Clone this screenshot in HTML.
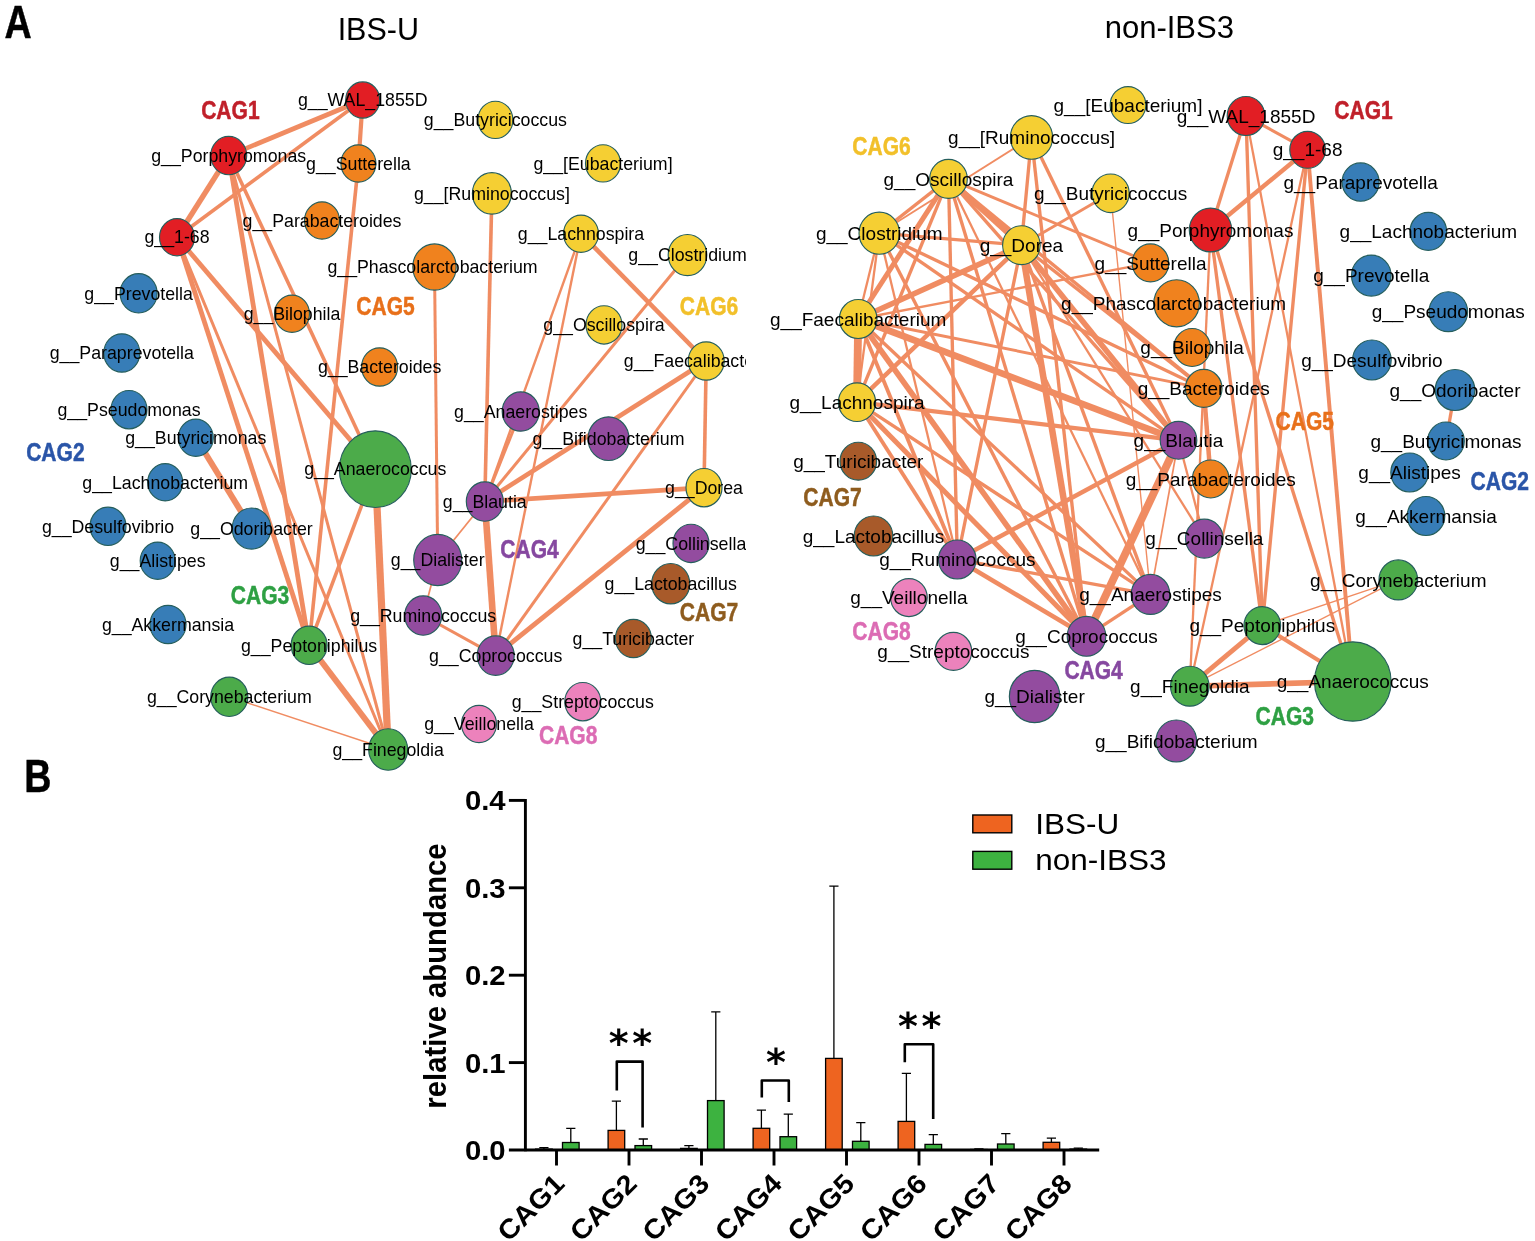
<!DOCTYPE html>
<html lang="en">
<head>
<meta charset="utf-8">
<title>CAG networks and relative abundance</title>
<style>
html,body{margin:0;padding:0;background:#fff;}
body{width:1535px;height:1241px;overflow:hidden;}
svg{display:block;}
text{font-family:"Liberation Sans",sans-serif;}
.cag text{font-weight:bold;font-size:25.8px;}
.ttl{font-size:30.5px;}
.pan{font-weight:bold;font-size:47px;stroke:#000;stroke-width:0.5px;}
.ax{font-weight:bold;font-size:27px;}
.ax text{font-weight:bold;font-size:27px;}
.leg{font-size:29.3px;}
.sig{font-family:"DejaVu Sans","Liberation Sans",sans-serif;font-weight:bold;font-size:38px;}
</style>
</head>
<body>
<svg width="1535" height="1241" viewBox="0 0 1535 1241">
<defs><clipPath id="cl"><rect x="0" y="60" width="746" height="720"/></clipPath></defs>
<rect width="1535" height="1241" fill="#fff"/>
<text class="pan" transform="translate(4.6,38.1) scale(0.80,1)">A</text>
<text class="pan" transform="translate(24.2,792.4) scale(0.80,1)">B</text>
<text class="ttl" x="378.3" y="40.4" text-anchor="middle">IBS-U</text>
<text class="ttl" x="1169.3" y="37.5" text-anchor="middle" style="font-size:31px">non-IBS3</text>
<g clip-path="url(#cl)">
<g stroke="#F08C62" stroke-linecap="butt" fill="none">
<line x1="228.7" y1="155.6" x2="362.7" y2="100.0" stroke-width="4.80"/>
<line x1="362.7" y1="100.0" x2="177.0" y2="237.2" stroke-width="3.60"/>
<line x1="228.7" y1="155.6" x2="177.0" y2="237.2" stroke-width="5.40"/>
<line x1="362.7" y1="100.0" x2="358.4" y2="163.5" stroke-width="4.20"/>
<line x1="358.4" y1="163.5" x2="309.1" y2="645.3" stroke-width="3.60"/>
<line x1="228.7" y1="155.6" x2="309.1" y2="645.3" stroke-width="4.80"/>
<line x1="228.7" y1="155.6" x2="388.2" y2="749.5" stroke-width="3.00"/>
<line x1="228.7" y1="155.6" x2="375.3" y2="469.2" stroke-width="3.60"/>
<line x1="177.0" y1="237.2" x2="309.1" y2="645.3" stroke-width="4.80"/>
<line x1="177.0" y1="237.2" x2="388.2" y2="749.5" stroke-width="3.00"/>
<line x1="177.0" y1="237.2" x2="375.3" y2="469.2" stroke-width="4.80"/>
<line x1="195.8" y1="437.7" x2="251.5" y2="528.5" stroke-width="6.00"/>
<line x1="375.3" y1="469.2" x2="309.1" y2="645.3" stroke-width="3.60"/>
<line x1="375.3" y1="469.2" x2="388.2" y2="749.5" stroke-width="7.20"/>
<line x1="309.1" y1="645.3" x2="388.2" y2="749.5" stroke-width="6.00"/>
<line x1="229.3" y1="696.8" x2="388.2" y2="749.5" stroke-width="1.38"/>
<line x1="434.5" y1="267.0" x2="437.7" y2="560.0" stroke-width="3.00"/>
<line x1="491.9" y1="193.4" x2="484.8" y2="501.5" stroke-width="3.60"/>
<line x1="581.0" y1="233.7" x2="706.2" y2="361.0" stroke-width="4.56"/>
<line x1="581.0" y1="233.7" x2="484.8" y2="501.5" stroke-width="2.40"/>
<line x1="581.0" y1="233.7" x2="495.7" y2="655.6" stroke-width="2.40"/>
<line x1="687.5" y1="255.0" x2="484.8" y2="501.5" stroke-width="3.00"/>
<line x1="706.2" y1="361.0" x2="484.8" y2="501.5" stroke-width="4.80"/>
<line x1="706.2" y1="361.0" x2="495.7" y2="655.6" stroke-width="3.00"/>
<line x1="706.2" y1="361.0" x2="704.0" y2="487.7" stroke-width="3.60"/>
<line x1="484.8" y1="501.5" x2="704.0" y2="487.7" stroke-width="4.80"/>
<line x1="704.0" y1="487.7" x2="495.7" y2="655.6" stroke-width="4.80"/>
<line x1="484.8" y1="501.5" x2="495.7" y2="655.6" stroke-width="6.60"/>
<line x1="484.8" y1="501.5" x2="437.7" y2="560.0" stroke-width="1.72"/>
<line x1="437.7" y1="560.0" x2="423.2" y2="615.5" stroke-width="1.72"/>
<line x1="423.2" y1="615.5" x2="495.7" y2="655.6" stroke-width="3.00"/>
<line x1="484.8" y1="501.5" x2="520.7" y2="411.5" stroke-width="3.00"/>
</g>
<g stroke="#255E5C" stroke-width="1.15">
<ellipse cx="362.7" cy="100.0" rx="17.00" ry="18.11" fill="#E21E24"/>
<ellipse cx="228.7" cy="155.6" rx="18.00" ry="19.17" fill="#E21E24"/>
<ellipse cx="177.0" cy="237.2" rx="17.50" ry="18.64" fill="#E21E24"/>
<ellipse cx="358.4" cy="163.5" rx="17.50" ry="18.64" fill="#F0821E"/>
<ellipse cx="322.0" cy="220.5" rx="17.50" ry="18.64" fill="#F0821E"/>
<ellipse cx="434.5" cy="267.0" rx="21.70" ry="23.11" fill="#F0821E"/>
<ellipse cx="292.0" cy="313.7" rx="17.50" ry="18.64" fill="#F0821E"/>
<ellipse cx="379.6" cy="367.0" rx="18.00" ry="19.17" fill="#F0821E"/>
<ellipse cx="138.6" cy="293.3" rx="18.50" ry="19.70" fill="#377DB7"/>
<ellipse cx="121.8" cy="353.0" rx="18.00" ry="19.17" fill="#377DB7"/>
<ellipse cx="129.0" cy="409.7" rx="18.00" ry="19.17" fill="#377DB7"/>
<ellipse cx="195.8" cy="437.7" rx="17.50" ry="18.64" fill="#377DB7"/>
<ellipse cx="165.2" cy="482.3" rx="17.50" ry="18.64" fill="#377DB7"/>
<ellipse cx="108.0" cy="526.3" rx="18.00" ry="19.17" fill="#377DB7"/>
<ellipse cx="251.5" cy="528.5" rx="19.30" ry="20.55" fill="#377DB7"/>
<ellipse cx="157.7" cy="560.7" rx="17.50" ry="18.64" fill="#377DB7"/>
<ellipse cx="168.0" cy="624.5" rx="18.00" ry="19.17" fill="#377DB7"/>
<ellipse cx="375.3" cy="469.2" rx="36.00" ry="38.34" fill="#4CAB4A"/>
<ellipse cx="309.1" cy="645.3" rx="18.00" ry="19.17" fill="#4CAB4A"/>
<ellipse cx="229.3" cy="696.8" rx="18.50" ry="19.70" fill="#4CAB4A"/>
<ellipse cx="388.2" cy="749.5" rx="19.50" ry="20.77" fill="#4CAB4A"/>
<ellipse cx="495.4" cy="119.9" rx="17.50" ry="18.64" fill="#F5CF33"/>
<ellipse cx="603.0" cy="163.4" rx="17.50" ry="18.64" fill="#F5CF33"/>
<ellipse cx="491.9" cy="193.4" rx="19.50" ry="20.77" fill="#F5CF33"/>
<ellipse cx="581.0" cy="233.7" rx="17.50" ry="18.64" fill="#F5CF33"/>
<ellipse cx="687.5" cy="255.0" rx="19.30" ry="20.55" fill="#F5CF33"/>
<ellipse cx="604.0" cy="324.9" rx="18.00" ry="19.17" fill="#F5CF33"/>
<ellipse cx="706.2" cy="361.0" rx="18.00" ry="19.17" fill="#F5CF33"/>
<ellipse cx="704.0" cy="487.7" rx="18.00" ry="19.17" fill="#F5CF33"/>
<ellipse cx="520.7" cy="411.5" rx="18.50" ry="19.70" fill="#934C9F"/>
<ellipse cx="608.5" cy="438.7" rx="20.50" ry="21.83" fill="#934C9F"/>
<ellipse cx="484.8" cy="501.5" rx="18.50" ry="19.70" fill="#934C9F"/>
<ellipse cx="691.0" cy="543.4" rx="18.00" ry="19.17" fill="#934C9F"/>
<ellipse cx="437.7" cy="560.0" rx="24.00" ry="25.56" fill="#934C9F"/>
<ellipse cx="423.2" cy="615.5" rx="18.50" ry="19.70" fill="#934C9F"/>
<ellipse cx="495.7" cy="655.6" rx="18.50" ry="19.70" fill="#934C9F"/>
<ellipse cx="670.7" cy="583.7" rx="19.00" ry="20.23" fill="#A85A2A"/>
<ellipse cx="633.4" cy="638.5" rx="18.00" ry="19.17" fill="#A85A2A"/>
<ellipse cx="582.8" cy="701.7" rx="18.00" ry="19.17" fill="#EC82BC"/>
<ellipse cx="479.0" cy="724.0" rx="17.50" ry="18.64" fill="#EC82BC"/>
</g>
<g class="lab" font-size="17.75" text-anchor="middle">
<text x="362.7" y="106.2">g__WAL_1855D</text>
<text x="228.7" y="161.8">g__Porphyromonas</text>
<text x="177.0" y="243.4">g__1-68</text>
<text x="358.4" y="169.7">g__Sutterella</text>
<text x="322.0" y="226.7">g__Parabacteroides</text>
<text x="432.5" y="273.2">g__Phascolarctobacterium</text>
<text x="292.0" y="319.9">g__Bilophila</text>
<text x="379.6" y="373.2">g__Bacteroides</text>
<text x="138.6" y="299.5">g__Prevotella</text>
<text x="121.8" y="359.2">g__Paraprevotella</text>
<text x="129.0" y="415.9">g__Pseudomonas</text>
<text x="195.8" y="443.9">g__Butyricimonas</text>
<text x="165.2" y="488.5">g__Lachnobacterium</text>
<text x="108.0" y="532.5">g__Desulfovibrio</text>
<text x="251.5" y="534.7">g__Odoribacter</text>
<text x="157.7" y="566.9">g__Alistipes</text>
<text x="168.0" y="630.7">g__Akkermansia</text>
<text x="375.3" y="475.4">g__Anaerococcus</text>
<text x="309.1" y="651.5">g__Peptoniphilus</text>
<text x="229.3" y="703.0">g__Corynebacterium</text>
<text x="388.2" y="755.7">g__Finegoldia</text>
<text x="495.4" y="126.1">g__Butyricicoccus</text>
<text x="603.0" y="169.6">g__[Eubacterium]</text>
<text x="491.9" y="199.6">g__[Ruminococcus]</text>
<text x="581.0" y="239.9">g__Lachnospira</text>
<text x="687.5" y="261.2">g__Clostridium</text>
<text x="604.0" y="331.1">g__Oscillospira</text>
<text x="706.2" y="367.2">g__Faecalibacterium</text>
<text x="704.0" y="493.9">g__Dorea</text>
<text x="520.7" y="417.7">g__Anaerostipes</text>
<text x="608.5" y="444.9">g__Bifidobacterium</text>
<text x="484.8" y="507.7">g__Blautia</text>
<text x="691.0" y="549.6">g__Collinsella</text>
<text x="437.7" y="566.2">g__Dialister</text>
<text x="423.2" y="621.7">g__Ruminococcus</text>
<text x="495.7" y="661.8">g__Coprococcus</text>
<text x="670.7" y="589.9">g__Lactobacillus</text>
<text x="633.4" y="644.7">g__Turicibacter</text>
<text x="582.8" y="707.9">g__Streptococcus</text>
<text x="479.0" y="730.2">g__Veillonella</text>
</g>
</g>
<g class="cag">
<text transform="translate(201.2,119.3) scale(0.815,1)" style="fill:#C0202A;stroke:#C0202A;stroke-width:0.5px">CAG1</text>
<text transform="translate(26.2,460.8) scale(0.815,1)" style="fill:#2A55A8;stroke:#2A55A8;stroke-width:0.5px">CAG2</text>
<text transform="translate(230.8,603.8) scale(0.815,1)" style="fill:#2EA043;stroke:#2EA043;stroke-width:0.5px">CAG3</text>
<text transform="translate(500.3,558.0) scale(0.815,1)" style="fill:#8648A0;stroke:#8648A0;stroke-width:0.5px">CAG4</text>
<text transform="translate(356.3,315.2) scale(0.815,1)" style="fill:#E8701A;stroke:#E8701A;stroke-width:0.5px">CAG5</text>
<text transform="translate(679.8,315.2) scale(0.815,1)" style="fill:#F2C02A;stroke:#F2C02A;stroke-width:0.5px">CAG6</text>
<text transform="translate(679.8,620.8) scale(0.815,1)" style="fill:#8E5C1E;stroke:#8E5C1E;stroke-width:0.5px">CAG7</text>
<text transform="translate(539.0,744.3) scale(0.815,1)" style="fill:#DC6CB4;stroke:#DC6CB4;stroke-width:0.5px">CAG8</text>
</g>
<g>
<g stroke="#F08C62" stroke-linecap="butt" fill="none">
<line x1="879.3" y1="233.2" x2="1031.5" y2="137.4" stroke-width="1.84"/>
<line x1="1031.5" y1="137.4" x2="1021.4" y2="245.2" stroke-width="3.36"/>
<line x1="1031.5" y1="137.4" x2="1178.5" y2="440.3" stroke-width="3.36"/>
<line x1="1031.5" y1="137.4" x2="1086.5" y2="636.3" stroke-width="3.36"/>
<line x1="948.5" y1="178.9" x2="879.3" y2="233.2" stroke-width="3.36"/>
<line x1="948.5" y1="178.9" x2="858.2" y2="319.0" stroke-width="5.04"/>
<line x1="948.5" y1="178.9" x2="1021.4" y2="245.2" stroke-width="5.60"/>
<line x1="948.5" y1="178.9" x2="857.0" y2="402.2" stroke-width="3.36"/>
<line x1="948.5" y1="178.9" x2="1178.5" y2="440.3" stroke-width="3.36"/>
<line x1="948.5" y1="178.9" x2="1086.5" y2="636.3" stroke-width="3.36"/>
<line x1="948.5" y1="178.9" x2="957.3" y2="559.5" stroke-width="3.36"/>
<line x1="948.5" y1="178.9" x2="1150.5" y2="594.4" stroke-width="2.30"/>
<line x1="879.3" y1="233.2" x2="1021.4" y2="245.2" stroke-width="3.36"/>
<line x1="879.3" y1="233.2" x2="858.2" y2="319.0" stroke-width="2.30"/>
<line x1="879.3" y1="233.2" x2="857.0" y2="402.2" stroke-width="2.30"/>
<line x1="879.3" y1="233.2" x2="1178.5" y2="440.3" stroke-width="3.36"/>
<line x1="879.3" y1="233.2" x2="1086.5" y2="636.3" stroke-width="3.36"/>
<line x1="879.3" y1="233.2" x2="957.3" y2="559.5" stroke-width="2.30"/>
<line x1="1021.4" y1="245.2" x2="858.2" y2="319.0" stroke-width="5.60"/>
<line x1="1021.4" y1="245.2" x2="857.0" y2="402.2" stroke-width="4.48"/>
<line x1="1021.4" y1="245.2" x2="1110.6" y2="193.3" stroke-width="2.80"/>
<line x1="1021.4" y1="245.2" x2="1178.5" y2="440.3" stroke-width="5.60"/>
<line x1="1021.4" y1="245.2" x2="1086.5" y2="636.3" stroke-width="6.50"/>
<line x1="1021.4" y1="245.2" x2="957.3" y2="559.5" stroke-width="3.36"/>
<line x1="1021.4" y1="245.2" x2="1150.5" y2="594.4" stroke-width="3.36"/>
<line x1="1021.4" y1="245.2" x2="1204.3" y2="538.6" stroke-width="2.30"/>
<line x1="858.2" y1="319.0" x2="857.0" y2="402.2" stroke-width="7.84"/>
<line x1="858.2" y1="319.0" x2="1178.5" y2="440.3" stroke-width="6.72"/>
<line x1="858.2" y1="319.0" x2="1086.5" y2="636.3" stroke-width="5.60"/>
<line x1="858.2" y1="319.0" x2="957.3" y2="559.5" stroke-width="3.81"/>
<line x1="858.2" y1="319.0" x2="1150.5" y2="594.4" stroke-width="3.36"/>
<line x1="858.2" y1="319.0" x2="1150.5" y2="262.9" stroke-width="2.30"/>
<line x1="857.0" y1="402.2" x2="1178.5" y2="440.3" stroke-width="4.26"/>
<line x1="857.0" y1="402.2" x2="1086.5" y2="636.3" stroke-width="5.04"/>
<line x1="857.0" y1="402.2" x2="957.3" y2="559.5" stroke-width="3.81"/>
<line x1="857.0" y1="402.2" x2="1150.5" y2="594.4" stroke-width="3.36"/>
<line x1="1110.6" y1="193.3" x2="1150.5" y2="594.4" stroke-width="1.38"/>
<line x1="1178.5" y1="440.3" x2="1086.5" y2="636.3" stroke-width="7.84"/>
<line x1="1178.5" y1="440.3" x2="957.3" y2="559.5" stroke-width="4.48"/>
<line x1="1178.5" y1="440.3" x2="1150.5" y2="594.4" stroke-width="1.72"/>
<line x1="1178.5" y1="440.3" x2="1204.3" y2="538.6" stroke-width="2.30"/>
<line x1="957.3" y1="559.5" x2="1086.5" y2="636.3" stroke-width="4.48"/>
<line x1="957.3" y1="559.5" x2="1150.5" y2="594.4" stroke-width="3.36"/>
<line x1="1086.5" y1="636.3" x2="1150.5" y2="594.4" stroke-width="3.36"/>
<line x1="1203.7" y1="388.4" x2="1210.7" y2="479.0" stroke-width="4.48"/>
<line x1="1203.7" y1="388.4" x2="948.5" y2="178.9" stroke-width="3.36"/>
<line x1="948.5" y1="178.9" x2="1150.5" y2="262.9" stroke-width="2.91"/>
<line x1="858.2" y1="319.0" x2="1203.7" y2="388.4" stroke-width="2.91"/>
<line x1="879.3" y1="233.2" x2="1203.7" y2="388.4" stroke-width="3.36"/>
<line x1="1203.7" y1="388.4" x2="1021.4" y2="245.2" stroke-width="3.36"/>
<line x1="1246.0" y1="116.0" x2="1307.6" y2="149.8" stroke-width="3.14"/>
<line x1="1246.0" y1="116.0" x2="1210.5" y2="230.0" stroke-width="3.36"/>
<line x1="1307.6" y1="149.8" x2="1210.5" y2="230.0" stroke-width="4.37"/>
<line x1="1246.0" y1="116.0" x2="1262.3" y2="625.6" stroke-width="3.36"/>
<line x1="1246.0" y1="116.0" x2="1352.8" y2="681.5" stroke-width="2.30"/>
<line x1="1307.6" y1="149.8" x2="1262.3" y2="625.6" stroke-width="3.36"/>
<line x1="1307.6" y1="149.8" x2="1352.8" y2="681.5" stroke-width="3.92"/>
<line x1="1307.6" y1="149.8" x2="1189.8" y2="686.2" stroke-width="2.30"/>
<line x1="1210.5" y1="230.0" x2="1262.3" y2="625.6" stroke-width="3.36"/>
<line x1="1210.5" y1="230.0" x2="1352.8" y2="681.5" stroke-width="3.36"/>
<line x1="1210.5" y1="230.0" x2="1189.8" y2="686.2" stroke-width="2.30"/>
<line x1="1262.3" y1="625.6" x2="1189.8" y2="686.2" stroke-width="4.82"/>
<line x1="1262.3" y1="625.6" x2="1352.8" y2="681.5" stroke-width="3.92"/>
<line x1="1189.8" y1="686.2" x2="1352.8" y2="681.5" stroke-width="5.60"/>
<line x1="1398.3" y1="579.9" x2="1262.3" y2="625.6" stroke-width="1.38"/>
<line x1="1398.3" y1="579.9" x2="1189.8" y2="686.2" stroke-width="1.38"/>
<line x1="1455.0" y1="390.0" x2="1446.0" y2="441.0" stroke-width="3.36"/>
</g>
<g stroke="#255E5C" stroke-width="1.15">
<ellipse cx="1031.5" cy="137.4" rx="21.09" ry="21.83" fill="#F5CF33"/>
<ellipse cx="948.5" cy="178.9" rx="18.81" ry="19.47" fill="#F5CF33"/>
<ellipse cx="879.3" cy="233.2" rx="20.29" ry="21.01" fill="#F5CF33"/>
<ellipse cx="1021.4" cy="245.2" rx="18.81" ry="19.47" fill="#F5CF33"/>
<ellipse cx="858.2" cy="319.0" rx="18.81" ry="19.47" fill="#F5CF33"/>
<ellipse cx="1128.0" cy="105.0" rx="17.82" ry="18.45" fill="#F5CF33"/>
<ellipse cx="1110.6" cy="193.3" rx="18.61" ry="19.27" fill="#F5CF33"/>
<ellipse cx="857.0" cy="402.2" rx="18.61" ry="19.27" fill="#F5CF33"/>
<ellipse cx="1246.0" cy="116.0" rx="18.81" ry="19.47" fill="#E21E24"/>
<ellipse cx="1307.6" cy="149.8" rx="17.82" ry="18.45" fill="#E21E24"/>
<ellipse cx="1210.5" cy="230.0" rx="21.19" ry="21.93" fill="#E21E24"/>
<ellipse cx="1150.5" cy="262.9" rx="18.32" ry="18.96" fill="#F0821E"/>
<ellipse cx="1176.6" cy="303.3" rx="22.77" ry="23.57" fill="#F0821E"/>
<ellipse cx="1192.1" cy="347.5" rx="18.32" ry="18.96" fill="#F0821E"/>
<ellipse cx="1203.7" cy="388.4" rx="18.32" ry="18.96" fill="#F0821E"/>
<ellipse cx="1210.7" cy="479.0" rx="18.32" ry="18.96" fill="#F0821E"/>
<ellipse cx="1360.6" cy="182.1" rx="18.51" ry="19.17" fill="#377DB7"/>
<ellipse cx="1428.3" cy="231.4" rx="18.32" ry="18.96" fill="#377DB7"/>
<ellipse cx="1371.3" cy="275.6" rx="19.80" ry="20.50" fill="#377DB7"/>
<ellipse cx="1448.3" cy="311.7" rx="19.30" ry="19.99" fill="#377DB7"/>
<ellipse cx="1371.9" cy="360.0" rx="19.30" ry="19.99" fill="#377DB7"/>
<ellipse cx="1455.0" cy="390.0" rx="19.80" ry="20.50" fill="#377DB7"/>
<ellipse cx="1446.0" cy="441.0" rx="18.32" ry="18.96" fill="#377DB7"/>
<ellipse cx="1409.6" cy="472.5" rx="18.81" ry="19.47" fill="#377DB7"/>
<ellipse cx="1426.0" cy="516.0" rx="18.81" ry="19.47" fill="#377DB7"/>
<ellipse cx="1178.5" cy="440.3" rx="18.32" ry="18.96" fill="#934C9F"/>
<ellipse cx="1204.3" cy="538.6" rx="18.81" ry="19.47" fill="#934C9F"/>
<ellipse cx="1150.5" cy="594.4" rx="19.30" ry="19.99" fill="#934C9F"/>
<ellipse cx="957.3" cy="559.5" rx="18.81" ry="19.47" fill="#934C9F"/>
<ellipse cx="1086.5" cy="636.3" rx="19.30" ry="19.99" fill="#934C9F"/>
<ellipse cx="1034.6" cy="696.5" rx="25.25" ry="26.14" fill="#934C9F"/>
<ellipse cx="1176.3" cy="741.0" rx="20.29" ry="21.01" fill="#934C9F"/>
<ellipse cx="1398.3" cy="579.9" rx="19.30" ry="19.99" fill="#4CAB4A"/>
<ellipse cx="1262.3" cy="625.6" rx="18.32" ry="18.96" fill="#4CAB4A"/>
<ellipse cx="1189.8" cy="686.2" rx="19.30" ry="19.99" fill="#4CAB4A"/>
<ellipse cx="1352.8" cy="681.5" rx="38.31" ry="39.67" fill="#4CAB4A"/>
<ellipse cx="858.3" cy="461.2" rx="18.32" ry="18.96" fill="#A85A2A"/>
<ellipse cx="873.5" cy="536.0" rx="19.30" ry="19.99" fill="#A85A2A"/>
<ellipse cx="908.9" cy="597.6" rx="18.32" ry="18.96" fill="#EC82BC"/>
<ellipse cx="953.4" cy="651.4" rx="18.32" ry="18.96" fill="#EC82BC"/>
</g>
<g class="lab" font-size="19.00" text-anchor="middle">
<text x="1031.5" y="144.0">g__[Ruminococcus]</text>
<text x="948.5" y="185.5">g__Oscillospira</text>
<text x="879.3" y="239.8">g__Clostridium</text>
<text x="1021.4" y="251.8">g__Dorea</text>
<text x="858.2" y="325.6">g__Faecalibacterium</text>
<text x="1128.0" y="111.6">g__[Eubacterium]</text>
<text x="1110.6" y="199.9">g__Butyricicoccus</text>
<text x="857.0" y="408.8">g__Lachnospira</text>
<text x="1246.0" y="122.6">g__WAL_1855D</text>
<text x="1307.6" y="156.4">g__1-68</text>
<text x="1210.5" y="236.6">g__Porphyromonas</text>
<text x="1150.5" y="269.5">g__Sutterella</text>
<text x="1173.6" y="309.9">g__Phascolarctobacterium</text>
<text x="1192.1" y="354.1">g__Bilophila</text>
<text x="1203.7" y="395.0">g__Bacteroides</text>
<text x="1210.7" y="485.6">g__Parabacteroides</text>
<text x="1360.6" y="188.7">g__Paraprevotella</text>
<text x="1428.3" y="238.0">g__Lachnobacterium</text>
<text x="1371.3" y="282.2">g__Prevotella</text>
<text x="1448.3" y="318.3">g__Pseudomonas</text>
<text x="1371.9" y="366.6">g__Desulfovibrio</text>
<text x="1455.0" y="396.6">g__Odoribacter</text>
<text x="1446.0" y="447.6">g__Butyricimonas</text>
<text x="1409.6" y="479.1">g__Alistipes</text>
<text x="1426.0" y="522.6">g__Akkermansia</text>
<text x="1178.5" y="446.9">g__Blautia</text>
<text x="1204.3" y="545.2">g__Collinsella</text>
<text x="1150.5" y="601.0">g__Anaerostipes</text>
<text x="957.3" y="566.1">g__Ruminococcus</text>
<text x="1086.5" y="642.9">g__Coprococcus</text>
<text x="1034.6" y="703.1">g__Dialister</text>
<text x="1176.3" y="747.6">g__Bifidobacterium</text>
<text x="1398.3" y="586.5">g__Corynebacterium</text>
<text x="1262.3" y="632.2">g__Peptoniphilus</text>
<text x="1189.8" y="692.8">g__Finegoldia</text>
<text x="1352.8" y="688.1">g__Anaerococcus</text>
<text x="858.3" y="467.8">g__Turicibacter</text>
<text x="873.5" y="542.6">g__Lactobacillus</text>
<text x="908.9" y="604.2">g__Veillonella</text>
<text x="953.4" y="658.0">g__Streptococcus</text>
</g>
</g>
<g class="cag">
<text transform="translate(1334.3,119.3) scale(0.815,1)" style="fill:#C0202A;stroke:#C0202A;stroke-width:0.5px">CAG1</text>
<text transform="translate(1470.6,489.6) scale(0.815,1)" style="fill:#2A55A8;stroke:#2A55A8;stroke-width:0.5px">CAG2</text>
<text transform="translate(1255.6,725.0) scale(0.815,1)" style="fill:#2EA043;stroke:#2EA043;stroke-width:0.5px">CAG3</text>
<text transform="translate(1064.4,678.8) scale(0.815,1)" style="fill:#8648A0;stroke:#8648A0;stroke-width:0.5px">CAG4</text>
<text transform="translate(1275.6,429.6) scale(0.815,1)" style="fill:#E8701A;stroke:#E8701A;stroke-width:0.5px">CAG5</text>
<text transform="translate(852.3,154.7) scale(0.815,1)" style="fill:#F2C02A;stroke:#F2C02A;stroke-width:0.5px">CAG6</text>
<text transform="translate(803.3,506.4) scale(0.815,1)" style="fill:#8E5C1E;stroke:#8E5C1E;stroke-width:0.5px">CAG7</text>
<text transform="translate(852.3,640.2) scale(0.815,1)" style="fill:#DC6CB4;stroke:#DC6CB4;stroke-width:0.5px">CAG8</text>
</g>
<g>
<path d="M543.9 1149.1 V1147.6 M539.3 1147.6 H548.5" stroke="#000" stroke-width="1.3" fill="none"/>
<rect x="535.6" y="1149.1" width="16.6" height="0.9" fill="#EE6420" stroke="#000" stroke-width="1.3"/>
<path d="M570.8 1142.5 V1128.3 M566.2 1128.3 H575.4" stroke="#000" stroke-width="1.3" fill="none"/>
<rect x="562.5" y="1142.5" width="16.6" height="7.5" fill="#3DB240" stroke="#000" stroke-width="1.3"/>
<path d="M616.4 1130.4 V1101.2 M611.8 1101.2 H621.0" stroke="#000" stroke-width="1.3" fill="none"/>
<rect x="608.1" y="1130.4" width="16.6" height="19.6" fill="#EE6420" stroke="#000" stroke-width="1.3"/>
<path d="M643.3 1145.6 V1139.0 M638.7 1139.0 H647.9" stroke="#000" stroke-width="1.3" fill="none"/>
<rect x="635.0" y="1145.6" width="16.6" height="4.4" fill="#3DB240" stroke="#000" stroke-width="1.3"/>
<path d="M688.9 1148.4 V1145.6 M684.3 1145.6 H693.5" stroke="#000" stroke-width="1.3" fill="none"/>
<rect x="680.6" y="1148.4" width="16.6" height="1.6" fill="#EE6420" stroke="#000" stroke-width="1.3"/>
<path d="M715.8 1100.6 V1011.9 M711.2 1011.9 H720.4" stroke="#000" stroke-width="1.3" fill="none"/>
<rect x="707.5" y="1100.6" width="16.6" height="49.4" fill="#3DB240" stroke="#000" stroke-width="1.3"/>
<path d="M761.4 1128.3 V1110.1 M756.8 1110.1 H766.0" stroke="#000" stroke-width="1.3" fill="none"/>
<rect x="753.1" y="1128.3" width="16.6" height="21.7" fill="#EE6420" stroke="#000" stroke-width="1.3"/>
<path d="M788.3 1136.7 V1114.2 M783.7 1114.2 H792.9" stroke="#000" stroke-width="1.3" fill="none"/>
<rect x="780.0" y="1136.7" width="16.6" height="13.3" fill="#3DB240" stroke="#000" stroke-width="1.3"/>
<path d="M833.9 1058.4 V886.1 M829.3 886.1 H838.5" stroke="#000" stroke-width="1.3" fill="none"/>
<rect x="825.6" y="1058.4" width="16.6" height="91.6" fill="#EE6420" stroke="#000" stroke-width="1.3"/>
<path d="M860.8 1141.3 V1122.7 M856.2 1122.7 H865.4" stroke="#000" stroke-width="1.3" fill="none"/>
<rect x="852.5" y="1141.3" width="16.6" height="8.7" fill="#3DB240" stroke="#000" stroke-width="1.3"/>
<path d="M906.4 1121.4 V1073.4 M901.8 1073.4 H911.0" stroke="#000" stroke-width="1.3" fill="none"/>
<rect x="898.1" y="1121.4" width="16.6" height="28.6" fill="#EE6420" stroke="#000" stroke-width="1.3"/>
<path d="M933.3 1144.4 V1134.6 M928.7 1134.6 H937.9" stroke="#000" stroke-width="1.3" fill="none"/>
<rect x="925.0" y="1144.4" width="16.6" height="5.6" fill="#3DB240" stroke="#000" stroke-width="1.3"/>
<path d="M978.9 1149.5 V1149.0 M974.3 1149.0 H983.5" stroke="#000" stroke-width="1.3" fill="none"/>
<rect x="970.6" y="1149.5" width="16.6" height="0.5" fill="#EE6420" stroke="#000" stroke-width="1.3"/>
<path d="M1005.8 1144.0 V1133.6 M1001.2 1133.6 H1010.4" stroke="#000" stroke-width="1.3" fill="none"/>
<rect x="997.5" y="1144.0" width="16.6" height="6.0" fill="#3DB240" stroke="#000" stroke-width="1.3"/>
<path d="M1051.4 1142.3 V1138.1 M1046.8 1138.1 H1056.0" stroke="#000" stroke-width="1.3" fill="none"/>
<rect x="1043.1" y="1142.3" width="16.6" height="7.7" fill="#EE6420" stroke="#000" stroke-width="1.3"/>
<path d="M1078.3 1149.1 V1148.1 M1073.7 1148.1 H1082.9" stroke="#000" stroke-width="1.3" fill="none"/>
<rect x="1070.0" y="1149.1" width="16.6" height="0.9" fill="#3DB240" stroke="#000" stroke-width="1.3"/>
<g stroke="#000" stroke-width="2.9" fill="none">
<path d="M525.4 799.0 V1151.3"/>
<path d="M508.9 1150.0 H1099.2"/>
<path d="M508.9 1062.6 H525.4"/>
<path d="M508.9 975.2 H525.4"/>
<path d="M508.9 887.8 H525.4"/>
<path d="M508.9 800.4 H525.4"/>
<path d="M556.5 1150.0 V1165.5"/>
<path d="M629.0 1150.0 V1165.5"/>
<path d="M701.5 1150.0 V1165.5"/>
<path d="M774.0 1150.0 V1165.5"/>
<path d="M846.5 1150.0 V1165.5"/>
<path d="M919.0 1150.0 V1165.5"/>
<path d="M991.5 1150.0 V1165.5"/>
<path d="M1064.0 1150.0 V1165.5"/>
</g>
<g class="ax" text-anchor="end">
<text transform="translate(505.6,1160.0) scale(1.085,1)">0.0</text>
<text transform="translate(505.6,1072.6) scale(1.085,1)">0.1</text>
<text transform="translate(505.6,985.2) scale(1.085,1)">0.2</text>
<text transform="translate(505.6,897.8) scale(1.085,1)">0.3</text>
<text transform="translate(505.6,810.4) scale(1.085,1)">0.4</text>
</g>
<g class="ax" text-anchor="end">
<text transform="translate(566.1,1185.3) rotate(-45) scale(1.085,1)">CAG1</text>
<text transform="translate(638.6,1185.3) rotate(-45) scale(1.085,1)">CAG2</text>
<text transform="translate(711.1,1185.3) rotate(-45) scale(1.085,1)">CAG3</text>
<text transform="translate(783.6,1185.3) rotate(-45) scale(1.085,1)">CAG4</text>
<text transform="translate(856.1,1185.3) rotate(-45) scale(1.085,1)">CAG5</text>
<text transform="translate(928.6,1185.3) rotate(-45) scale(1.085,1)">CAG6</text>
<text transform="translate(1001.1,1185.3) rotate(-45) scale(1.085,1)">CAG7</text>
<text transform="translate(1073.6,1185.3) rotate(-45) scale(1.085,1)">CAG8</text>
</g>
<text class="ax" style="font-size:31.3px" text-anchor="middle" transform="translate(445.6,976.0) rotate(-90) scale(0.936,1)">relative abundance</text>
<rect x="972.8" y="815" width="39" height="17.8" fill="#EE6420" stroke="#000" stroke-width="1.4"/>
<rect x="972.8" y="851.4" width="39" height="17.8" fill="#3DB240" stroke="#000" stroke-width="1.4"/>
<text class="leg" transform="translate(1035.2,833.6) scale(1.075,1)">IBS-U</text>
<text class="leg" transform="translate(1035.2,870.2) scale(1.075,1)">non-IBS3</text>
<path d="M616.8 1090.5 V1061.6 H642.6 V1127.5" stroke="#000" stroke-width="2.6" stroke-linejoin="round" fill="none"/>
<text class="sig" text-anchor="middle" x="632.2" y="1056.3" letter-spacing="3.6">**</text>
<path d="M761.8 1097.5 V1080.5 H788.8 V1102.0" stroke="#000" stroke-width="2.6" stroke-linejoin="round" fill="none"/>
<text class="sig" text-anchor="middle" x="776.0" y="1075.2">*</text>
<path d="M904.8 1062.3 V1044.2 H933.2 V1119.0" stroke="#000" stroke-width="2.6" stroke-linejoin="round" fill="none"/>
<text class="sig" text-anchor="middle" x="921.5" y="1038.9" letter-spacing="3.6">**</text>
</g>
</svg>
</body>
</html>
